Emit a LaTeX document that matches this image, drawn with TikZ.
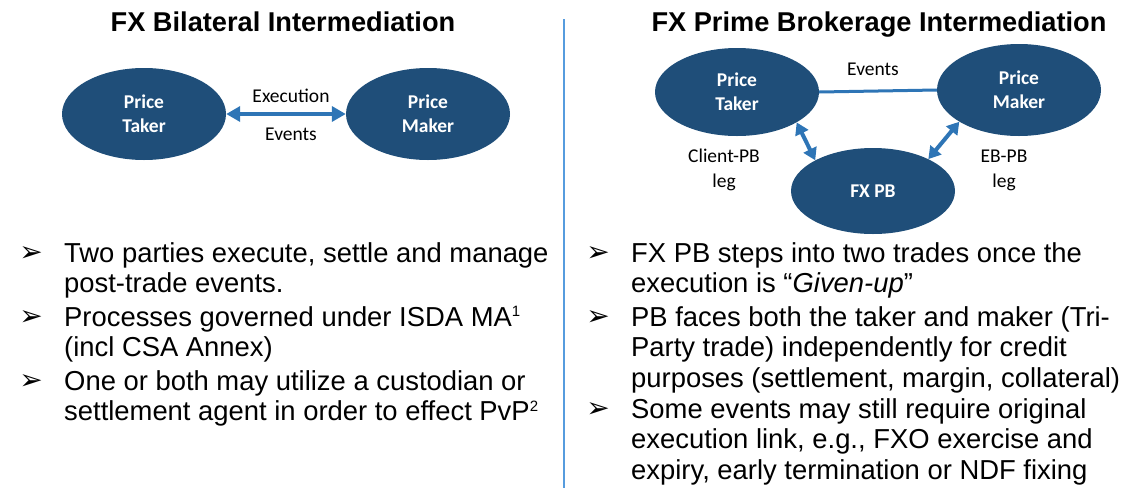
\documentclass[tikz,border=0pt]{standalone}
\usepackage{fontspec}
\setmainfont{Liberation Sans}
\newfontfamily\calfont{Carlito}
\newfontfamily\symfont{DejaVu Sans}
\usetikzlibrary{positioning,shapes.geometric,arrows.meta}
\definecolor{partyblue}{RGB}{31,78,121}
\definecolor{linkblue}{RGB}{46,117,182}
\definecolor{ruleblue}{RGB}{86,156,222}
\newcommand{\fnmark}[1]{\textsuperscript{\fontsize{15}{15}\selectfont #1}}

\begin{document}
\begin{tikzpicture}[
    x=1pt, y=-1pt,
    party/.style={ellipse, fill=partyblue, text=white, align=center,
                  inner sep=0pt, minimum width=164pt, minimum height=92pt,
                  font=\calfont\bfseries\fontsize{19.5}{24}\selectfont},
    lbl/.style={align=center, inner sep=0pt,
                font=\calfont\fontsize{19.5}{25}\selectfont},
    title/.style={anchor=base, inner sep=0pt,
                  font=\bfseries\fontsize{27.2}{30}\selectfont},
    bul/.style={anchor=base, inner sep=0pt,
                font=\symfont\fontsize{28}{30}\selectfont},
    % base of a multi-line node is its last line
    item/.style={anchor=base west, align=left, inner sep=0pt,
                 font=\fontsize{27.4}{30.5}\selectfont},
    link/.style={linkblue, line width=4pt,
                 {Triangle[length=14pt,width=15pt]}-{Triangle[length=14pt,width=15pt]}},
    leg/.style={linkblue, line width=4pt,
                {Triangle[length=12pt,width=14pt]}-{Triangle[length=12pt,width=14pt]}},
  ]
  \useasboundingbox (0,0) rectangle (1124,488);

  % ---------------------------------------------------------------
  % Titles and divider
  % ---------------------------------------------------------------
  \node[title] (ttlL) at (283,31) {FX Bilateral Intermediation};
  \node[title] (ttlR) at (879,31) {FX Prime Brokerage Intermediation};
  \coordinate (divTop) at (564,19);
  \coordinate (divBot) at (564,488);
  \draw[ruleblue, line width=1.6pt] (divTop) -- (divBot);

  % ---------------------------------------------------------------
  % Bilateral: taker <-> maker
  % ---------------------------------------------------------------
  \node[party] (takL) at (144,114) {Price\\Taker};
  \node[party] (makL) at (428,114) {Price\\Maker};
  \draw[link] (takL.east) -- (makL.west);
  \node[lbl] (exeL) at (291,96) {Execution};
  \node[lbl] (evtL) at (291,134) {Events};

  % ---------------------------------------------------------------
  % Prime brokerage: taker, maker and FX PB in a triangle
  % ---------------------------------------------------------------
  \node[party, minimum height=88pt] (takR) at (737,92) {Price\\Taker};
  \node[party] (makR) at (1019,90) {Price\\Maker};
  \node[party, minimum height=86pt] (pb) at (873,191) {FX PB};
  \draw[linkblue, line width=3pt] (takR.east) -- (makR.west);
  \node[lbl] (evtR) at (873,69) {Events};
  \draw[leg] (takR.-27) -- (pb.152);
  \draw[leg] (makR.208) -- (pb.30);
  \node[lbl] (cpb) at (724,170) {Client-PB\\leg};
  \node[lbl] (epb) at (1004,170) {EB-PB\\leg};

  % ---------------------------------------------------------------
  % Bullet points
  % ---------------------------------------------------------------
  \node[bul] (bL1) at (31,261) {➢};
  \node[item] (iL1) at (64,292.5) {Two parties execute, settle and manage\\post-trade events.};
  \node[bul] (bL2) at (31,325) {➢};
  \node[item] (iL2) at (64,356.5) {Processes governed under ISDA MA\fnmark{1}\\(incl CSA Annex)};
  \node[bul] (bL3) at (31,389) {➢};
  \node[item] (iL3) at (64,420.5) {One or both may utilize a custodian or\\settlement agent in order to effect PvP\fnmark{2}};

  \node[bul] (bR1) at (598,261) {➢};
  \node[item] (iR1) at (631,292.5) {FX PB steps into two trades once the\\execution is “\textit{Given-up}”};
  \node[bul] (bR2) at (598,325) {➢};
  \node[item] (iR2) at (631,387) {PB faces both the taker and maker (Tri-\\Party trade) independently for credit\\purposes (settlement, margin, collateral)};
  \node[bul] (bR3) at (598,417) {➢};
  \node[item] (iR3) at (631,479) {Some events may still require original\\execution link, e.g., FXO exercise and\\expiry, early termination or NDF fixing};
\end{tikzpicture}
\end{document}
